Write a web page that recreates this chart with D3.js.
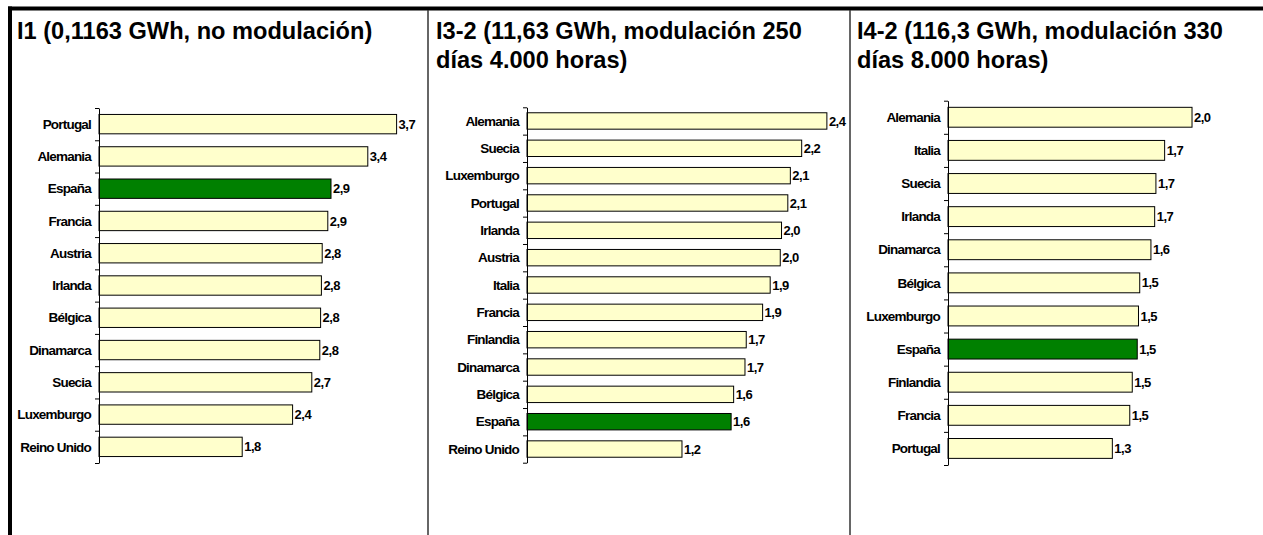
<!DOCTYPE html>
<html><head><meta charset="utf-8">
<script src="https://cdn.jsdelivr.net/npm/d3@7"></script>
<style>
html,body{margin:0;padding:0;background:#fff;}
svg{display:block;}
.cat{font-family:"Liberation Sans",Arial,sans-serif;font-weight:bold;font-size:13.5px;letter-spacing:-0.8px;fill:#000;}
.val{font-family:"Liberation Sans",Arial,sans-serif;font-weight:bold;font-size:13px;letter-spacing:-0.5px;fill:#000;}
.title{font-family:"Liberation Sans",Arial,sans-serif;font-weight:bold;font-size:23.6px;fill:#000;}
</style>
</head><body>
<svg id="chart" width="1263" height="535"></svg>
<script>
// ---- data ----
const titles1 = ["I1 (0,1163 GWh, no modulación)"];
const titles2 = ["I3-2 (11,63 GWh, modulación 250", "días 4.000 horas)"];
const titles3 = ["I4-2 (116,3 GWh, modulación 330", "días 8.000 horas)"];

const cats1 = ["Portugal","Alemania","España","Francia","Austria","Irlanda","Bélgica","Dinamarca","Suecia","Luxemburgo","Reino Unido"];
const vals1 = [3.72, 3.36, 2.90, 2.86, 2.79, 2.78, 2.77, 2.76, 2.66, 2.42, 1.79];

const cats2 = ["Alemania","Suecia","Luxemburgo","Portugal","Irlanda","Austria","Italia","Francia","Finlandia","Dinamarca","Bélgica","España","Reino Unido"];
const vals2 = [2.38, 2.18, 2.09, 2.07, 2.02, 2.01, 1.93, 1.87, 1.74, 1.73, 1.64, 1.62, 1.23];

const cats3 = ["Alemania","Italia","Suecia","Irlanda","Dinamarca","Bélgica","Luxemburgo","España","Finlandia","Francia","Portugal"];
const vals3 = [1.96, 1.74, 1.67, 1.66, 1.63, 1.54, 1.53, 1.52, 1.48, 1.46, 1.32];

const highlight = "España";

// ---- layout ----
const panels = [
  {titles: titles1, cats: cats1, vals: vals1, tx: 17, ax: 99, xmax: 4, xw: 320, y0: 108, y1: 463},
  {titles: titles2, cats: cats2, vals: vals2, tx: 436, ax: 527, xmax: 2.5, xw: 315, y0: 107.3, y1: 462.7},
  {titles: titles3, cats: cats3, vals: vals3, tx: 857, ax: 948, xmax: 2.5, xw: 311.25, y0: 100.7, y1: 465}
];

const svg = d3.select("#chart");
const locale = d3.formatLocale({decimal: ",", thousands: ".", grouping: [3], currency: ["", "€"]});
const fmt = locale.format(".1f");

// frame
svg.append("rect").attr("x", 8).attr("y", 6.5).attr("width", 1255).attr("height", 4).attr("fill", "#000");
svg.append("rect").attr("x", 8).attr("y", 6.5).attr("width", 4).attr("height", 530).attr("fill", "#000");
[428, 850].forEach(x => {
  svg.append("line").attr("x1", x).attr("x2", x).attr("y1", 10).attr("y2", 535)
    .attr("stroke", "#333").attr("stroke-width", 1.5);
});

panels.forEach(p => {
  const g = svg.append("g");
  // title
  p.titles.forEach((t, i) => {
    g.append("text").attr("class", "title").attr("x", p.tx).attr("y", 39 + i * 28.5).text(t);
  });
  const data = p.cats.map((c, i) => ({c, v: p.vals[i]}));
  const x = d3.scaleLinear().domain([0, p.xmax]).range([p.ax, p.ax + p.xw]);
  const y = d3.scaleBand().domain(p.cats).range([p.y0, p.y1]).padding(0);
  const bw = y.bandwidth();
  const frac = 0.6;

  g.selectAll("rect.bar").data(data).join("rect")
    .attr("class", "bar")
    .attr("x", x(0))
    .attr("y", d => y(d.c) + bw * (1 - frac) / 2)
    .attr("width", d => x(d.v) - x(0))
    .attr("height", bw * frac)
    .attr("fill", d => d.c === highlight ? "#008000" : "#FFFFCC")
    .attr("stroke", "#000").attr("stroke-width", 1);

  // value labels
  g.selectAll("text.val").data(data).join("text")
    .attr("class", "val")
    .attr("x", d => x(d.v) + 2)
    .attr("y", d => y(d.c) + bw / 2)
    .attr("dy", "0.35em")
    .text(d => fmt(d.v));

  // category labels
  g.selectAll("text.cat").data(data).join("text")
    .attr("class", "cat")
    .attr("x", p.ax - 8)
    .attr("y", d => y(d.c) + bw / 2)
    .attr("dy", "0.35em")
    .attr("text-anchor", "end")
    .text(d => d.c);

  // axis with ticks at category boundaries
  const yb = d3.scaleLinear().domain([0, p.cats.length]).range([p.y0, p.y1]);
  const axis = d3.axisLeft(yb).tickValues(d3.range(p.cats.length + 1))
    .tickSize(4).tickSizeOuter(0).tickFormat("");
  const ag = g.append("g").attr("transform", `translate(${p.ax},0)`).call(axis);
  ag.selectAll("path,line").attr("stroke", "#000").attr("stroke-width", 1);
});
</script>
</body></html>
